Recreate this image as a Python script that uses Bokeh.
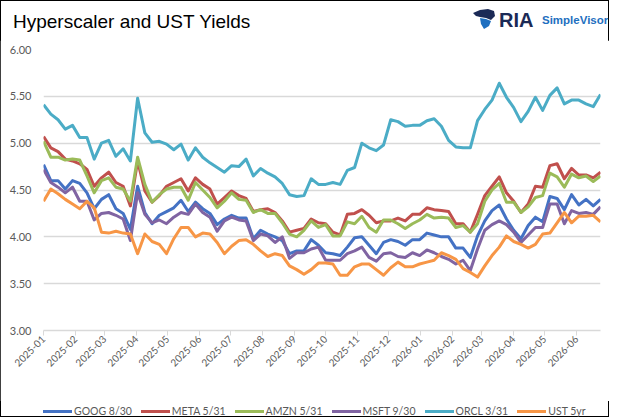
import pandas as pd
from math import pi
from bokeh.plotting import figure
from bokeh.layouts import column
from bokeh.models import (Range1d, MonthsTicker, DatetimeTickFormatter, SingleIntervalTicker,
                          NumeralTickFormatter, Div)
from bokeh.embed import file_html
from bokeh.resources import INLINE

# weekly observations, Jan 2025 - Jun 2026
fechas = pd.date_range("2025-01-01", periods=78, freq="7D")

goog = [4.77, 4.60, 4.60, 4.51, 4.60, 4.57, 4.47, 4.30, 4.40, 4.45, 4.30, 4.25, 4.08, 4.54,
        4.26, 4.14, 4.23, 4.27, 4.31, 4.39, 4.27, 4.37, 4.30, 4.25, 4.13, 4.19, 4.23, 4.20,
        4.20, 3.98, 4.07, 4.03, 4.00, 3.96, 3.82, 3.85, 3.85, 3.97, 3.91,
        3.83, 3.82, 3.80, 3.89, 3.99, 4.00, 3.91, 3.82, 3.94, 3.97, 3.95, 3.91, 3.97, 3.97,
        4.04, 4.02, 4.00, 4.00, 3.88, 3.88, 3.78, 4.01, 4.17, 4.28, 4.34, 4.19, 4.07, 3.98,
        4.12, 4.21, 4.16, 4.43, 4.41, 4.29, 4.45, 4.34, 4.40, 4.33, 4.40]
meta = [5.07, 4.95, 4.91, 4.83, 4.81, 4.78, 4.72, 4.54, 4.63, 4.69, 4.58, 4.54, 4.33, 4.81,
        4.49, 4.37, 4.44, 4.54, 4.58, 4.62, 4.49, 4.63, 4.56, 4.51, 4.35, 4.42, 4.49, 4.44,
        4.41, 4.27, 4.29, 4.30, 4.26, 4.17, 4.05, 4.07, 4.09, 4.19, 4.15,
        4.14, 4.05, 4.02, 4.24, 4.25, 4.29, 4.23, 4.15, 4.17, 4.17, 4.20, 4.17, 4.24, 4.24,
        4.31, 4.29, 4.28, 4.27, 4.14, 4.14, 4.05, 4.24, 4.44, 4.54, 4.64, 4.47, 4.38, 4.26,
        4.35, 4.54, 4.53, 4.76, 4.78, 4.62, 4.73, 4.66, 4.66, 4.63, 4.69]
amzn = [5.02, 4.85, 4.85, 4.82, 4.83, 4.82, 4.65, 4.47, 4.60, 4.63, 4.53, 4.51, 4.38, 4.85,
        4.56, 4.37, 4.45, 4.51, 4.53, 4.53, 4.39, 4.58, 4.50, 4.42, 4.31, 4.38, 4.47, 4.40,
        4.39, 4.26, 4.29, 4.25, 4.25, 4.15, 4.03, 4.00, 4.07, 4.17, 4.10,
        4.13, 4.01, 4.01, 4.16, 4.14, 4.22, 4.10, 4.05, 4.18, 4.18, 4.14, 4.09, 4.14, 4.18,
        4.24, 4.20, 4.21, 4.20, 4.10, 4.12, 4.05, 4.14, 4.38, 4.50, 4.57, 4.37, 4.37, 4.26,
        4.32, 4.42, 4.44, 4.68, 4.64, 4.53, 4.67, 4.63, 4.65, 4.59, 4.65]
msft = [4.72, 4.58, 4.53, 4.47, 4.53, 4.38, 4.38, 4.18, 4.25, 4.26, 4.23, 4.19, 3.96, 4.47,
        4.24, 4.15, 4.18, 4.14, 4.21, 4.26, 4.24, 4.35, 4.26, 4.21, 4.06, 4.17, 4.21, 4.18,
        4.17, 3.96, 4.03, 4.01, 3.94, 4.00, 3.77, 3.83, 3.83, 3.87, 3.89,
        3.75, 3.75, 3.75, 3.82, 3.85, 3.89, 3.78, 3.74, 3.82, 3.83, 3.79, 3.78, 3.83, 3.80,
        3.86, 3.83, 3.79, 3.76, 3.71, 3.75, 3.64, 3.87, 4.07, 4.13, 4.17, 4.13, 4.05, 3.94,
        4.02, 4.10, 4.10, 4.35, 4.35, 4.14, 4.28, 4.25, 4.26, 4.24, 4.32]
orcl = [5.41, 5.31, 5.25, 5.15, 5.19, 5.06, 5.06, 4.83, 5.00, 5.03, 4.86, 4.94, 4.81, 5.48,
        5.11, 5.01, 5.02, 4.99, 4.93, 4.99, 4.82, 4.95, 4.85, 4.79, 4.74, 4.69, 4.76, 4.75,
        4.83, 4.65, 4.73, 4.68, 4.64, 4.57, 4.45, 4.43, 4.44, 4.62, 4.56,
        4.56, 4.58, 4.56, 4.71, 4.74, 5.00, 4.95, 4.92, 4.98, 5.25, 5.23, 5.18, 5.19, 5.19,
        5.24, 5.26, 5.18, 5.03, 4.96, 4.95, 4.95, 5.24, 5.36, 5.46, 5.64, 5.49, 5.38, 5.23,
        5.34, 5.49, 5.35, 5.51, 5.59, 5.42, 5.46, 5.46, 5.42, 5.39, 5.52]
ust5 = [4.38, 4.51, 4.46, 4.40, 4.35, 4.30, 4.38, 4.31, 4.05, 4.04, 4.06, 4.04, 4.03, 3.82,
        4.03, 3.95, 3.92, 3.82, 3.98, 4.10, 4.10, 4.00, 4.04, 4.03, 3.94, 3.82, 3.90, 3.96,
        3.97, 3.92, 3.85, 3.79, 3.82, 3.80, 3.69, 3.65, 3.60, 3.65, 3.72,
        3.72, 3.71, 3.59, 3.59, 3.68, 3.71, 3.71, 3.65, 3.59, 3.67, 3.73, 3.68, 3.68, 3.71,
        3.73, 3.75, 3.83, 3.80, 3.76, 3.66, 3.62, 3.57, 3.69, 3.80, 3.89, 4.01, 3.95, 3.92,
        3.88, 3.92, 4.03, 4.04, 4.15, 4.26, 4.15, 4.22, 4.22, 4.23, 4.16]

series = [
    ("GOOG 8/30", goog, "#4472C4"),
    ("META 5/31", meta, "#C0504D"),
    ("AMZN 5/31", amzn, "#9BBB59"),
    ("MSFT 9/30", msft, "#8064A2"),
    ("ORCL 3/31", orcl, "#4BACC6"),
    ("UST 5yr", ust5, "#F79646"),
]

FUENTE = "Lato"
GRIS = "#595959"

# cabecera: titulo a la izquierda, logo a la derecha
icono = ('<svg style="position:absolute;left:473px;top:9px" width="22" height="20" viewBox="0 0 22 20">'
         '<polygon points="0,4 7,1 15,0 21,2 22,7 18,11 13,9 7,8 3,7" fill="#1B2A56"/>'
         '<polygon points="7,9 13,10 18,12 16,17 11,20 8,15" fill="#1E6FC0"/>'
         '</svg>')
cabecera = Div(
    text=('<div style="position:relative;width:609px;height:40px;">'
          '<span style="position:absolute;left:13px;top:8px;font-family:\'Liberation Sans\';'
          'font-size:19px;color:#000;white-space:nowrap;">Hyperscaler and UST Yields</span>'
          + icono +
          '<span style="position:absolute;left:499px;top:6px;font-family:\'Liberation Sans\';'
          'font-size:20px;font-weight:bold;color:#1B2A56;">RIA</span>'
          '<span style="position:absolute;left:542px;top:12px;font-family:\'Liberation Sans\';'
          'font-size:11.5px;font-weight:bold;color:#1E6FC0;">SimpleVisor</span>'
          '</div>'),
    width=609, height=40, margin=(0, 0, 0, 0))

inicio = fechas[0] - pd.Timedelta(hours=2)
p = figure(width=609, height=361, x_axis_type="datetime",
           x_range=Range1d(inicio, fechas[-1]), y_range=Range1d(3.0, 6.0),
           output_backend="svg", toolbar_location=None,
           min_border_left=43, min_border_right=9, min_border_top=9, min_border_bottom=71)
p.outline_line_color = None
p.background_fill_color = "white"
p.border_fill_color = "white"

# ejes (sin titulo de eje, para no reservar espacio vacio)
p.xaxis.axis_label = None
p.yaxis.axis_label = None
p.xaxis.ticker = MonthsTicker(months=list(range(1, 13)))
p.xaxis.formatter = DatetimeTickFormatter(months="%Y-%m", days="%Y-%m")
p.xaxis.major_label_orientation = pi / 4
p.xaxis.major_label_text_font = FUENTE
p.xaxis.major_label_text_font_size = "10px"
p.xaxis.major_label_text_color = GRIS
p.xaxis.axis_line_color = "#d9d9d9"
p.xaxis.axis_line_width = 1.5
p.xaxis.major_tick_line_color = "#d9d9d9"
p.xaxis.major_tick_in = 0
p.xaxis.major_tick_out = 5
p.xaxis.minor_tick_line_color = None
p.xaxis.major_label_standoff = 2

p.yaxis.ticker = SingleIntervalTicker(interval=0.5)
p.yaxis.formatter = NumeralTickFormatter(format="0.00")
p.yaxis.major_label_text_font = FUENTE
p.yaxis.major_label_text_font_size = "11px"
p.yaxis.major_label_text_color = GRIS
p.yaxis.axis_line_color = None
p.yaxis.major_tick_line_color = None
p.yaxis.minor_tick_line_color = None
p.yaxis.major_tick_in = 0
p.yaxis.major_tick_out = 0
p.yaxis.major_label_standoff = 8

p.xgrid.grid_line_color = None
p.ygrid.ticker = SingleIntervalTicker(interval=0.5)
p.ygrid.grid_line_color = "#d9d9d9"
p.ygrid.grid_line_width = 1.5

for nombre, valores, color in series:
    p.line(fechas, valores, line_color=color, line_width=3, line_join="round")

# leyenda horizontal bajo el grafico
entradas = "".join(
    '<span style="display:flex;align-items:center;">'
    f'<span style="display:inline-block;width:29px;height:3px;background:{color};"></span>'
    f'<span style="margin-left:2px;">{nombre}</span></span>'
    for nombre, _, color in series)
leyenda = Div(
    text=(f'<div style="display:flex;gap:9px;padding-left:43px;height:14px;align-items:center;'
          f'font-family:{FUENTE};font-size:10.5px;color:{GRIS};white-space:nowrap;">'
          + entradas + '</div>'),
    width=609, height=16, margin=(0, 0, 0, 0))

pagina = column(cabecera, p, leyenda, spacing=0,
                styles={"outline": "1.5px solid #000", "outline-offset": "-1.5px"})

open("out.html", "w").write(file_html(pagina, INLINE))
